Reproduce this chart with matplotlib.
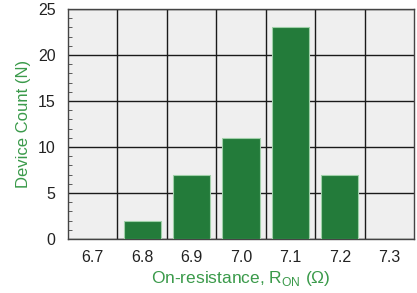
import matplotlib.pyplot as plt
import numpy as np
from matplotlib.ticker import MultipleLocator

plt.rcParams['font.family'] = ['Liberation Sans', 'DejaVu Sans']
plt.rcParams['mathtext.fontset'] = 'custom'
plt.rcParams['mathtext.rm'] = 'Liberation Sans'

# data
bins = ['6.7', '6.8', '6.9', '7.0', '7.1', '7.2', '7.3']
counts = [0, 2, 7, 11, 23, 7, 0]

bar_green = '#237b3a'
label_green = '#3a9a4a'

fig = plt.figure(figsize=(4.17, 2.93), dpi=100)
ax = fig.add_axes([0.163, 0.184, 0.83, 0.785])
ax.set_facecolor('#efefef')

x = np.arange(len(bins))
ax.bar(x, counts, width=0.75, color=bar_green, edgecolor='#9fd0a8', linewidth=0.8, zorder=3)

ax.set_xlim(-0.5, len(bins) - 0.5)
ax.set_ylim(0, 25)
ax.set_xticks(x)
ax.set_xticklabels(bins)
ax.set_xticks(x[:-1] + 0.5, minor=True)
ax.yaxis.set_major_locator(MultipleLocator(5))
ax.yaxis.set_minor_locator(MultipleLocator(1))

ax.grid(which='major', axis='y', color='#1a1a1a', linewidth=1.0, zorder=1)
ax.grid(which='minor', axis='x', color='#1a1a1a', linewidth=1.0, zorder=1)

ax.tick_params(axis='x', which='both', length=0, labelsize=11.5, pad=8, colors='#222222')
ax.tick_params(axis='y', which='major', length=0, labelsize=11.5, pad=9, colors='#222222')
ax.tick_params(axis='y', which='minor', direction='in', length=3, color='#444444')

for s in ax.spines.values():
    s.set_color('#444444')
    s.set_linewidth(1.0)

ax.set_ylabel('Device Count (N)', color=label_green, fontsize=12, labelpad=5)
ax.set_xlabel(r'On-resistance, R$_{\mathrm{ON}}$ ($\mathrm{\Omega}$)', color=label_green, fontsize=12.5, labelpad=3)

fig.savefig('out.png', dpi=100)
